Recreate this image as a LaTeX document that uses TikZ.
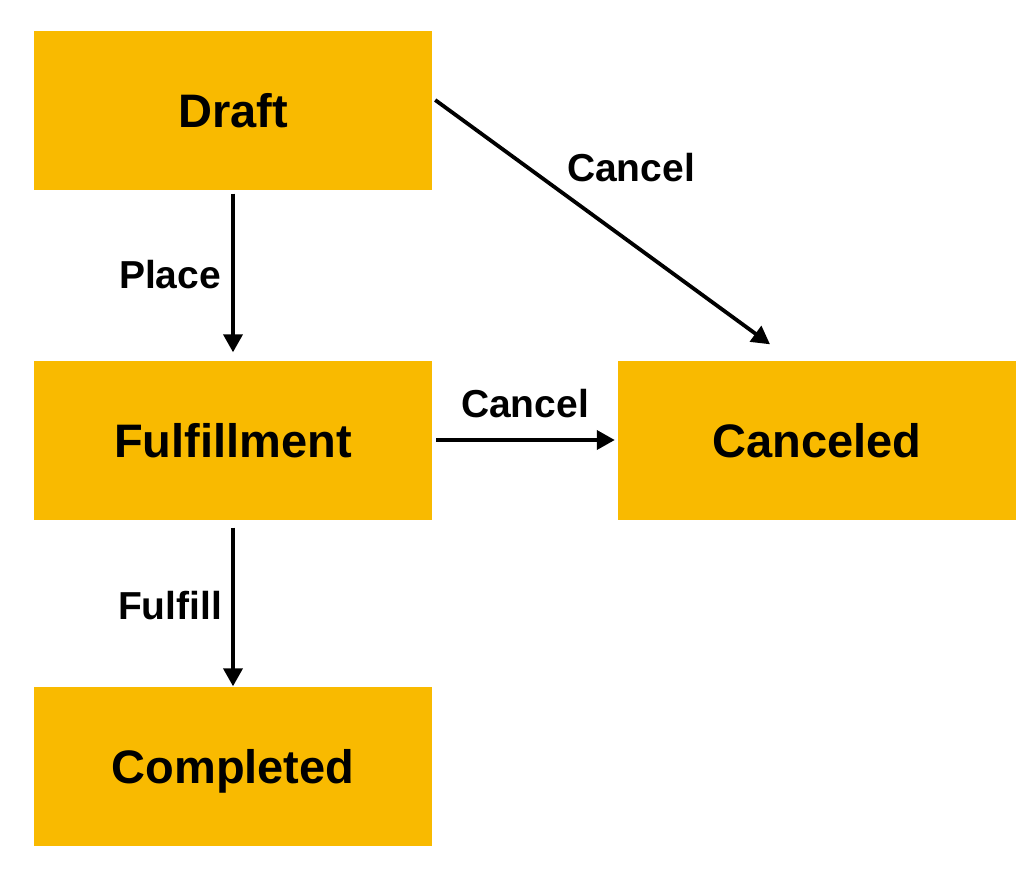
\documentclass[tikz,border=0pt]{standalone}
\usepackage{fontspec}
\setmainfont{Liberation Sans}
\usetikzlibrary{arrows.meta}
\definecolor{boxfill}{HTML}{F9BA00}
\begin{document}
\begin{tikzpicture}[x=1pt,y=-1pt,
  state/.style={fill=boxfill,draw=none,minimum width=398pt,minimum height=159pt,inner sep=0pt,
    text height=34pt,text depth=0pt,
    font=\fontsize{47}{50}\selectfont\bfseries},
  lbl/.style={font=\fontsize{39}{42}\selectfont\bfseries,inner sep=0pt},
  conn/.style={line width=3.8pt,-{Triangle[length=18pt,width=19pt]}}]
\useasboundingbox (0,0) rectangle (1034,878);
\node[state] (draft) at (233,110) {Draft};
\node[state] (ful) at (233,440) {Fulfillment};
\node[state] (comp) at (233,766) {Completed};
\node[state] (canc) at (817,440) {Canceled};
\draw[conn,shorten <=4pt,shorten >=8pt] (draft.south) -- (ful.north);
\draw[conn,shorten <=8pt,shorten >=0pt] (ful.south) -- (comp.north);
\draw[conn,shorten <=4pt,shorten >=3pt] (ful.east) -- (canc.west);
\draw[conn] ([shift={(3pt,10pt)}]draft.east) -- ([shift={(-47pt,16pt)}]canc.north);
\node[lbl] (lplace) at (170,275) {Place};
\node[lbl] (lfulfill) at (170,606) {Fulfill};
\node[lbl] (lcancel1) at (631,168) {Cancel};
\node[lbl] (lcancel2) at (525,404) {Cancel};
\end{tikzpicture}
\end{document}
